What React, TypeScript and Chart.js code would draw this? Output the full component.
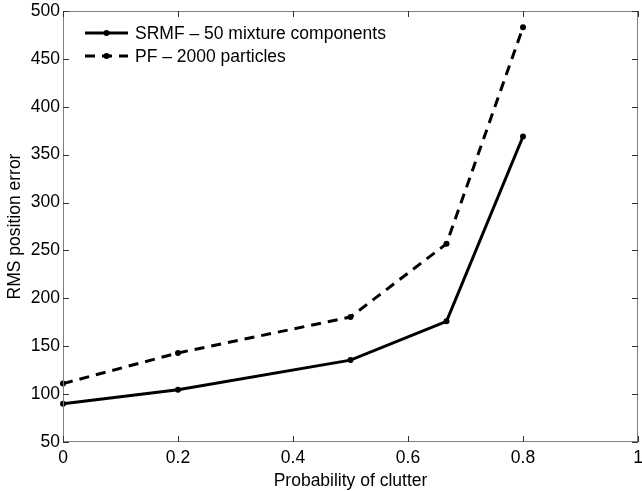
import React, { useEffect, useRef } from "react";
import { Chart, registerables } from "chart.js";

Chart.register(...registerables);

const xValues = [0, 0.2, 0.5, 0.667, 0.8];
const srmfValues = [90, 104.5, 135.5, 176, 369];
const pfValues = [111, 143, 180.5, 257, 483];
const xTicks = [0, 0.2, 0.4, 0.6, 0.8, 1];
const yTicks = [50, 100, 150, 200, 250, 300, 350, 400, 450, 500];
const seriesNames = ["SRMF \u2013 50 mixture components", "PF \u2013 2000 particles"];

const FONT = "'Liberation Sans', Arial, Helvetica, sans-serif";
const FS = 17.5;

const boxPlugin = {
  id: "matlabBox",
  afterDraw(chart: any) {
    const { ctx, chartArea: a, scales } = chart;
    ctx.save();
    ctx.strokeStyle = "#808080";
    ctx.lineWidth = 1;
    ctx.strokeRect(a.left + 0.5, a.top + 0.5, a.right - a.left - 1, a.bottom - a.top - 1);
    ctx.strokeStyle = "#333";
    const tl = 6;
    ctx.beginPath();
    for (const v of xTicks) {
      const x = Math.round(scales.x.getPixelForValue(v)) + 0.5;
      ctx.moveTo(x, a.bottom);
      ctx.lineTo(x, a.bottom - tl);
      ctx.moveTo(x, a.top);
      ctx.lineTo(x, a.top + tl);
    }
    for (const v of yTicks) {
      const y = Math.round(scales.y.getPixelForValue(v)) + 0.5;
      ctx.moveTo(a.left, y);
      ctx.lineTo(a.left + tl, y);
      ctx.moveTo(a.right, y);
      ctx.lineTo(a.right - tl, y);
    }
    ctx.stroke();

    // legend
    const lx0 = a.left + 22;
    const lx1 = a.left + 65;
    const rows = [a.top + 22, a.top + 45];
    ctx.strokeStyle = "#000";
    ctx.fillStyle = "#000";
    ctx.lineWidth = 3;
    rows.forEach((y, i) => {
      ctx.beginPath();
      ctx.setLineDash(i === 0 ? [] : [10, 7]);
      ctx.moveTo(lx0, y);
      ctx.lineTo(lx1, y);
      ctx.stroke();
      ctx.setLineDash([]);
      ctx.beginPath();
      ctx.arc((lx0 + lx1) / 2, y, 3, 0, Math.PI * 2);
      ctx.fill();
      ctx.font = `${FS}px ${FONT}`;
      ctx.textBaseline = "middle";
      ctx.textAlign = "left";
      ctx.fillText(seriesNames[i], a.left + 72, y + 1);
    });
    ctx.restore();
  },
};

export default function App() {
  const ref = useRef<HTMLCanvasElement | null>(null);
  useEffect(() => {
    document.body.style.margin = "0";
    const chart = new Chart(ref.current as HTMLCanvasElement, {
      type: "line",
      data: {
        datasets: [
          {
            label: seriesNames[0],
            data: xValues.map((x, i) => ({ x, y: srmfValues[i] })),
            borderColor: "#000",
            backgroundColor: "#000",
            borderWidth: 3,
            pointRadius: 3,
            pointBorderWidth: 0,
            tension: 0,
            clip: false as any,
          },
          {
            label: seriesNames[1],
            data: xValues.map((x, i) => ({ x, y: pfValues[i] })),
            borderColor: "#000",
            backgroundColor: "#000",
            borderWidth: 3,
            borderDash: [10, 7],
            pointRadius: 3,
            pointBorderWidth: 0,
            tension: 0,
            clip: false as any,
          },
        ],
      },
      options: {
        animation: false,
        responsive: false,
        maintainAspectRatio: false,
        layout: { padding: { top: 11, right: 1, left: 0, bottom: 0 } },
        plugins: { legend: { display: false }, tooltip: { enabled: false } },
        scales: {
          x: {
            type: "linear",
            min: 0,
            max: 1,
            afterBuildTicks: (s: any) => {
              s.ticks = xTicks.map((v) => ({ value: v }));
            },
            afterFit: (s: any) => {
              s.height = 49;
              s.paddingLeft = 0;
              s.paddingRight = 0;
            },
            grid: { display: false, drawTicks: false },
            border: { display: false },
            ticks: {
              color: "#000",
              padding: 6,
              maxRotation: 0,
              autoSkip: false,
              font: { family: FONT, size: FS },
              callback: (v: any) => String(v),
            },
            title: {
              display: true,
              text: "Probability of clutter",
              color: "#000",
              font: { family: FONT, size: FS, lineHeight: 1.1 },
              padding: { top: 0, bottom: 0 },
            },
          },
          y: {
            type: "linear",
            min: 50,
            max: 500,
            afterBuildTicks: (s: any) => {
              s.ticks = yTicks.map((v) => ({ value: v }));
            },
            afterFit: (s: any) => {
              s.width = 63;
              s.paddingTop = 0;
              s.paddingBottom = 0;
            },
            grid: { display: false, drawTicks: false },
            border: { display: false },
            ticks: {
              color: "#000",
              padding: 3,
              autoSkip: false,
              font: { family: FONT, size: FS },
            },
            title: {
              display: true,
              text: "RMS position error",
              color: "#000",
              font: { family: FONT, size: FS, lineHeight: 1.1 },
              padding: { top: 6, bottom: 0 },
            },
          },
        },
      },
      plugins: [boxPlugin],
    });
    return () => chart.destroy();
  }, []);
  return (
    <div style={{ width: 642, height: 491 }}>
      <canvas ref={ref} width={642} height={491} style={{ display: "block", width: 642, height: 491 }} />
    </div>
  );
}
